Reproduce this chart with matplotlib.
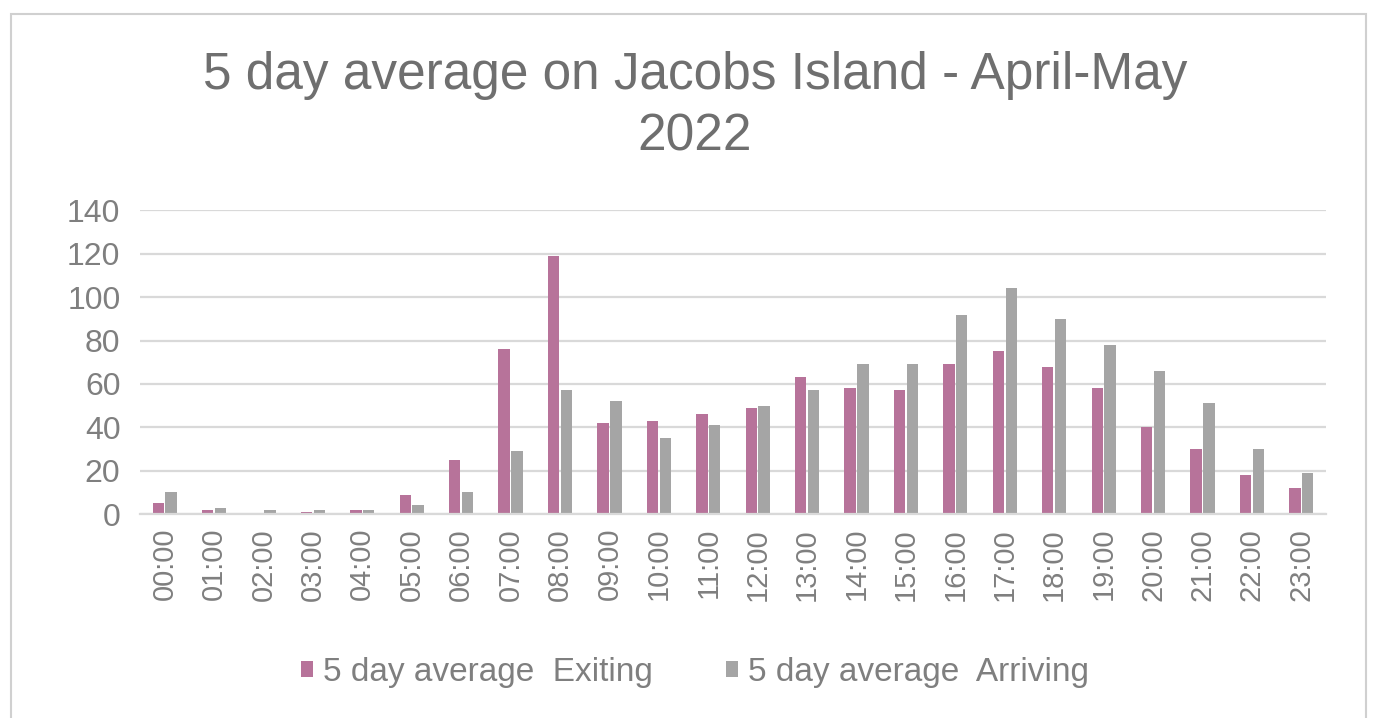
import numpy as np
import matplotlib.pyplot as plt
from matplotlib.patches import Rectangle

plt.rcParams['font.family'] = ['Liberation Sans', 'DejaVu Sans']

hours = ['%02d:00' % h for h in range(24)]
exiting = [5, 2, 0.5, 1, 2, 9, 25, 76, 119, 42, 43, 46, 49, 63, 58, 57,
           69, 75, 68, 58, 40, 30, 18, 12]
arriving = [10, 3, 2, 2, 2, 4, 10, 29, 57, 52, 35, 41, 50, 57, 69, 69,
            92, 104, 90, 78, 66, 51, 30, 19]

pink = '#B7739A'
grey = '#A5A5A5'
text_col = '#7F7F7F'

fig = plt.figure(figsize=(13.76, 7.18), dpi=100)
ax = fig.add_axes([0.1017, 0.284, 0.862, 0.423])

x = np.arange(len(hours))
w = 0.23
ax.bar(x - 0.13, exiting, w, color=pink, label='5 day average  Exiting')
ax.bar(x + 0.13, arriving, w, color=grey, label='5 day average  Arriving')

ax.set_xlim(-0.5, 23.5)
ax.set_ylim(0, 140)
ax.set_yticks(range(0, 141, 20))
ax.set_xticks(x)
ax.set_xticklabels(hours, rotation=90, fontsize=21, color=text_col)
ax.tick_params(axis='y', labelsize=23, labelcolor=text_col, length=0, pad=14)
ax.tick_params(axis='x', length=0, pad=10)
ax.grid(axis='y', color='#D9D9D9', linewidth=1.6)
ax.set_axisbelow(True)
for s in ['top', 'right', 'left']:
    ax.spines[s].set_visible(False)
ax.spines['bottom'].set_color('#D9D9D9')
ax.spines['bottom'].set_linewidth(1.6)

fig.text(0.505, 0.852, '5 day average on Jacobs Island - April-May\n2022',
         ha='center', va='center', fontsize=37, color='#6F6F6F',
         linespacing=1.33)

leg = fig.legend(loc='center', bbox_to_anchor=(0.505, 0.063), ncol=2,
                 frameon=False, fontsize=24, handlelength=0.35,
                 handleheight=0.35, handletextpad=0.3, columnspacing=2.2)
for t in leg.get_texts():
    t.set_color(text_col)

fig.patches.append(Rectangle((0.008, -0.01), 0.985, 0.99, transform=fig.transFigure,
                             fill=False, edgecolor='#D0D0D0', linewidth=1.5))

fig.savefig('out.png', dpi=100)
